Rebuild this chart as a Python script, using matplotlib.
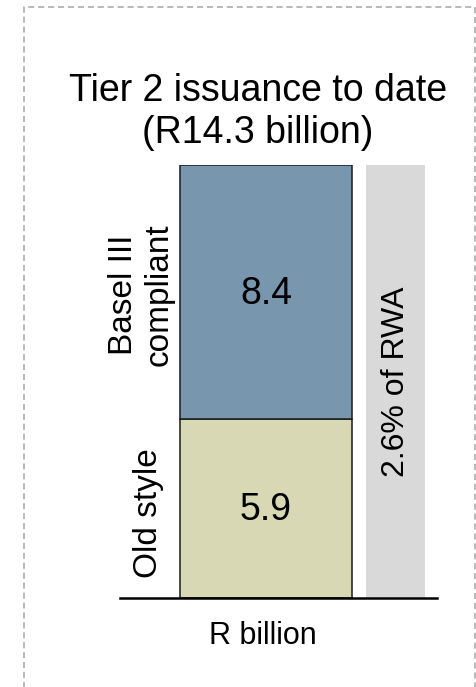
import matplotlib.pyplot as plt
from matplotlib.lines import Line2D

plt.rcParams['font.family'] = ['Liberation Sans', 'DejaVu Sans']

# Tier 2 issuance, R billion
segments = ['Old style', 'Basel III\ncompliant']
values = [5.9, 8.4]
colors = ['#d8d8b4', '#7896ae']
total = 14.3
rwa_label = '2.6% of RWA'

W, H = 477, 687
fig = plt.figure(figsize=(W / 100, H / 100), dpi=100)

# axes placed in pixel terms: baseline at y=598, bar top at y=165
left, right, top, bottom = 120, 437, 165, 598
ax = fig.add_axes([left / W, 1 - bottom / H, (right - left) / W, (bottom - top) / H])
ax.set_ylim(0, total)
ax.set_xlim((left - 266) / 172, (right - 266) / 172)


def px_y(y):
    return (bottom - y) / (bottom - top) * total


def px_x(x):
    return (x - 266) / 172


# stacked main bar
base = 0
for name, v, c in zip(segments, values, colors):
    ax.bar(0, v, width=1, bottom=base, color=c, edgecolor='#1a1a1a', linewidth=1.1, zorder=2)
    ax.text(0, base + v / 2 - 0.06, f'{v:.1f}', ha='center', va='center', fontsize=27)
    base += v

# RWA side bar
ax.bar(0.753, total, width=0.343, color='#d9d9d9', linewidth=0, zorder=1)
ax.text(0.753, px_y(382), rwa_label, rotation=90, ha='center', va='center', fontsize=23)

# segment labels on the left
ax.text(px_x(141), px_y(295), segments[1], rotation=90, ha='center', va='center',
        fontsize=24, multialignment='center', linespacing=1.2)
ax.text(px_x(149), px_y(513), segments[0], rotation=90, ha='center', va='center', fontsize=24)

for s in ['top', 'left', 'right']:
    ax.spines[s].set_visible(False)
ax.spines['bottom'].set_linewidth(1.8)
ax.spines['bottom'].set_zorder(3)
ax.set_xticks([])
ax.set_yticks([])
ax.patch.set_alpha(0)

fig.text(258 / W, 1 - 112 / H, 'Tier 2 issuance to date\n(R14.3 billion)', ha='center', va='center',
         fontsize=27, linespacing=1.2)
fig.text(263 / W, 1 - 636 / H, 'R billion', ha='center', va='center', fontsize=22)

# dashed frame, open at the bottom
bx0, bx1, by0 = 24 / W, 475 / W, 1 - 6.5 / H
frame = Line2D([bx0, bx0, bx1, bx1], [-0.01, by0, by0, -0.01], transform=fig.transFigure,
               color='#a6a6a6', linewidth=1.1, linestyle=(0, (4, 2.5)))
fig.add_artist(frame)

fig.savefig('out.png', dpi=100)
